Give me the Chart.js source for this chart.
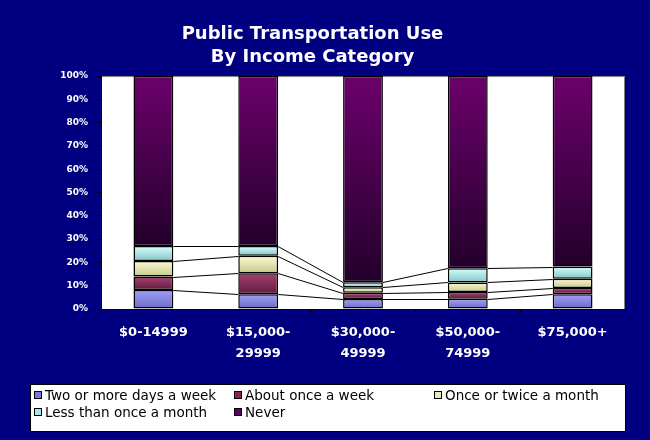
<!DOCTYPE html>
<html>
<head>
<meta charset="utf-8">
<script src="https://cdn.jsdelivr.net/npm/chart.js@4/dist/chart.umd.min.js"></script>
<style>
  body { margin: 0; background: #000080; }
  canvas { display: block; }
</style>
</head>
<body>
<canvas id="transitChart" width="650" height="440"></canvas>
<script>
// values are % of respondents
const categories = ['$0-14999', ['$15,000-', '29999'], ['$30,000-', '49999'], ['$50,000-', '74999'], '$75,000+'];
const seriesNames = ['Two or more days a week', 'About once a week', 'Once or twice a month', 'Less than once a month', 'Never'];
const twoOrMoreDays = [8.2, 6.3, 4.3, 4.4, 6.3];
const onceAWeek = [5.7, 9.0, 2.7, 2.9, 2.7];
const onceOrTwiceMonth = [6.7, 7.6, 2.3, 4.1, 4.0];
const lessThanMonthly = [6.4, 4.1, 2.2, 6.1, 5.2];
const never = [73.0, 73.0, 88.5, 82.5, 81.8];
const yTickStep = 10;

const FONT = '"DejaVu Sans", Verdana, sans-serif';

// top / bottom shade of each segment, plus the flat legend swatch
const shades = [
    { top: '#a0a0fa', bottom: '#6a6ac4', swatch: '#7878d8' },
    { top: '#a8406f', bottom: '#5e1c40', swatch: '#882458' },
    { top: '#fbfbd0', bottom: '#c8c890', swatch: '#e8e8b8' },
    { top: '#d4ffff', bottom: '#86c4c4', swatch: '#a8e4e4' },
    { top: '#6c006c', bottom: '#22002a', swatch: '#600060' }
];

const seriesData = [twoOrMoreDays, onceAWeek, onceOrTwiceMonth, lessThanMonthly, never];

var segmentFill = function(dsIndex) {
    return function(context) {
        const chart = context.chart;
        const yScale = chart.scales.y;
        if (context.type !== 'data' || !yScale) return shades[dsIndex].swatch;
        const i = context.dataIndex;
        let base = 0;
        for (let k = 0; k < dsIndex; k++) base += chart.data.datasets[k].data[i];
        const yTop = yScale.getPixelForValue(base + chart.data.datasets[dsIndex].data[i]);
        const yBottom = yScale.getPixelForValue(base);
        if (!isFinite(yTop) || !isFinite(yBottom) || yTop === yBottom) return shades[dsIndex].swatch;
        const grad = chart.ctx.createLinearGradient(0, yTop, 0, yBottom);
        grad.addColorStop(0, shades[dsIndex].top);
        grad.addColorStop(1, shades[dsIndex].bottom);
        return grad;
    };
};

const plotBackground = {
    id: 'plotBackground',
    beforeDraw(chart) {
        const ctx = chart.ctx;
        const a = chart.chartArea;
        ctx.save();
        ctx.fillStyle = '#000080';
        ctx.fillRect(0, 0, chart.width, chart.height);
        ctx.fillStyle = '#ffffff';
        ctx.fillRect(a.left, a.top, a.right - a.left, a.bottom - a.top);
        ctx.strokeStyle = '#808080';
        ctx.lineWidth = 1;
        ctx.strokeRect(a.left + 0.5, a.top + 0.5, a.right - a.left - 1, a.bottom - a.top);
        ctx.restore();
    }
};

// Excel style series lines between the stacked segments
const seriesLines = {
    id: 'seriesLines',
    afterDatasetsDraw(chart) {
        const ctx = chart.ctx;
        ctx.save();
        ctx.strokeStyle = '#000000';
        ctx.lineWidth = 1;
        for (let d = 0; d < chart.data.datasets.length - 1; d++) {
            const bars = chart.getDatasetMeta(d).data;
            for (let i = 0; i < bars.length - 1; i++) {
                const a = bars[i], b = bars[i + 1];
                ctx.beginPath();
                ctx.moveTo(a.x + a.width / 2, Math.round(a.y) + 0.5);
                ctx.lineTo(b.x - b.width / 2, Math.round(b.y) + 0.5);
                ctx.stroke();
            }
        }
        ctx.restore();
    }
};

// boxed legend laid out in three columns
const boxedLegend = {
    id: 'boxedLegend',
    afterDraw(chart) {
        const ctx = chart.ctx;
        const left = 30, top = 384, width = 596, height = 48;
        const colWidth = 200, rowHeight = 17;
        ctx.save();
        ctx.fillStyle = '#ffffff';
        ctx.fillRect(left, top, width, height);
        ctx.strokeStyle = '#000000';
        ctx.lineWidth = 1;
        ctx.strokeRect(left + 0.5, top + 0.5, width - 1, height - 1);
        ctx.font = '13.5px ' + FONT;
        ctx.textBaseline = 'middle';
        ctx.textAlign = 'left';
        chart.data.datasets.forEach((ds, i) => {
            const x = left + 4 + (i % 3) * colWidth;
            const y = top + 11 + Math.floor(i / 3) * rowHeight;
            ctx.fillStyle = shades[i].swatch;
            ctx.fillRect(x, y - 4, 8, 8);
            ctx.strokeStyle = '#000000';
            ctx.strokeRect(x + 0.5, y - 3.5, 7, 7);
            ctx.fillStyle = '#000000';
            ctx.fillText(ds.label, x + 11, y + 1);
        });
        ctx.restore();
    }
};

const ctxTransit = document.getElementById('transitChart');

const transitChart = new Chart(ctxTransit, {
    type: 'bar',
    data: {
        labels: categories,
        datasets: seriesData.map((values, i) => ({
            label: seriesNames[i],
            data: values,
            backgroundColor: segmentFill(i),
            borderColor: '#000000',
            borderWidth: 1.5,
            borderSkipped: false,
            barPercentage: 0.38,
            categoryPercentage: 1
        }))
    },
    options: {
        responsive: false,
        animation: false,
        events: [],
        layout: {
            padding: { top: 20, right: 25, bottom: 56, left: 0 }
        },
        plugins: {
            legend: { display: false },
            tooltip: { enabled: false },
            title: {
                display: true,
                text: ['Public Transportation Use', 'By Income Category'],
                color: '#ffffff',
                font: { family: FONT, size: 18, weight: 'bold', lineHeight: 1.28 },
                padding: { top: 3, bottom: 7 }
            }
        },
        scales: {
            x: {
                stacked: true,
                grid: { drawOnChartArea: false, color: '#000000', tickLength: 4 },
                border: { color: '#000000' },
                ticks: {
                    color: '#ffffff',
                    font: { family: FONT, size: 13, weight: 'bold', lineHeight: 1.6 },
                    padding: 9,
                    maxRotation: 0,
                    autoSkip: false
                },
                afterFit: function(scale) { scale.height = 75; }
            },
            y: {
                stacked: true,
                min: 0,
                max: 100,
                grid: { drawOnChartArea: false, color: '#000000', tickLength: 4 },
                border: { color: '#000000' },
                ticks: {
                    stepSize: yTickStep,
                    color: '#ffffff',
                    font: { family: FONT, size: 9, weight: 'bold' },
                    padding: 9,
                    callback: function(value) { return value + '%'; }
                },
                afterFit: function(scale) { scale.width = 101; }
            }
        }
    },
    plugins: [plotBackground, seriesLines, boxedLegend]
});
</script>
</body>
</html>
